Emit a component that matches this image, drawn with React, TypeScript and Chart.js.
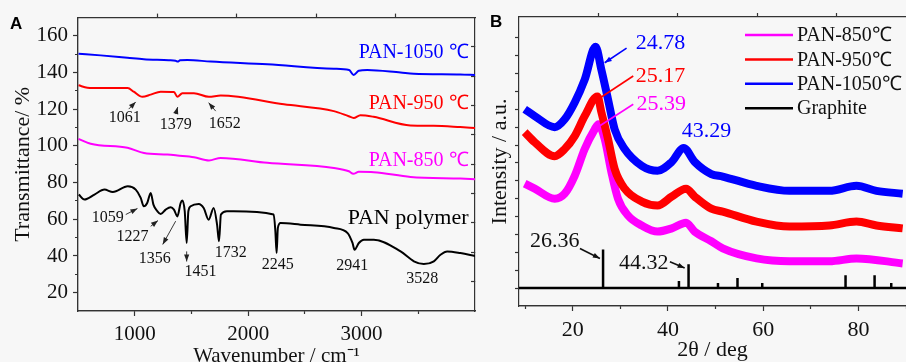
import React, { useEffect, useRef } from 'react';
import { Chart, registerables } from 'chart.js';

Chart.register(...registerables);

// ---------------- Panel A: FTIR ----------------
const ftirSeriesNames = ['PAN polymer', 'PAN-850 ℃', 'PAN-950 ℃', 'PAN-1050 ℃'];

const panPolymerWn = [507, 557, 645, 733, 807, 939, 1009, 1053, 1080, 1110, 1141, 1165, 1200, 1229, 1273, 1317, 1346, 1376, 1405, 1420, 1441, 1458, 1473, 1493, 1564, 1608, 1652, 1696, 1726, 1743, 1760, 1813, 1872, 2225, 2240, 2251, 2262, 2286, 2462, 2756, 2877, 2920, 2938, 2976, 3020, 3108, 3344, 3461, 3549, 3637, 3696, 3755, 3872, 4000];
const panPolymerT = [73.5, 70.8, 73.5, 76.2, 74.9, 78.0, 76.2, 71.7, 67.1, 68.9, 74.4, 68.0, 64.4, 62.9, 65.3, 66.6, 65.3, 61.6, 68.9, 70.2, 64.4, 47.1, 64.4, 67.1, 68.4, 66.2, 59.8, 66.2, 57.1, 48.0, 62.6, 64.4, 64.4, 62.6, 53.5, 41.6, 55.3, 58.0, 57.1, 55.3, 52.5, 47.1, 43.4, 47.1, 48.9, 48.9, 42.5, 37.1, 35.6, 37.1, 40.7, 42.5, 41.6, 40.0];

const pan850Wn = [504, 612, 936, 1082, 1288, 1376, 1523, 1655, 1758, 2169, 2756, 2888, 2927, 2976, 3108, 3432, 3872, 4000];
const pan850T = [103.9, 101.2, 99.0, 96.2, 95.3, 94.8, 93.9, 92.1, 93.5, 90.8, 88.0, 86.2, 84.8, 85.9, 85.7, 83.1, 82.2, 81.9];

const pan950Wn = [505, 583, 700, 938, 991, 1068, 1141, 1229, 1346, 1376, 1420, 1522, 1654, 1758, 2315, 2755, 2887, 2930, 2990, 3106, 3430, 3635, 3870, 4000];
const pan950T = [133.1, 131.8, 131.6, 131.6, 129.6, 126.8, 128.0, 129.6, 129.4, 126.8, 128.8, 128.8, 126.8, 127.5, 122.7, 119.0, 116.2, 115.3, 116.8, 115.9, 111.2, 111.0, 110.3, 109.8];

const pan1050Wn = [505, 700, 936, 1080, 1300, 1360, 1379, 1400, 1465, 1670, 2170, 2755, 2890, 2930, 2975, 3050, 3344, 3460, 3870, 4000];
const pan1050T = [150.3, 149.4, 148.1, 147.3, 146.8, 146.5, 146.0, 146.7, 146.9, 146.0, 144.5, 142.1, 141.4, 138.7, 141.0, 141.4, 140.0, 139.4, 139.0, 138.7];

const ftirXTicks = [1000, 2000, 3000];
const ftirXMinorTicks = [1500, 2500, 3500];
const ftirYTicks = [20, 40, 60, 80, 100, 120, 140, 160];
const ftirYMinorTicks = [30, 50, 70, 90, 110, 130, 150];

// label anchors, in data units (wavenumber, transmittance)
const ftirSeriesLabelAt = [[3943, 60.5], [3943, 91.7], [3943, 122.8], [3943, 150.7]];
const ftirPeakNotes = [
  { text: '1061', at: [912, 115.2], from: [947, 120.1], to: [1009, 124.0] },
  { text: '1379', at: [1361, 111.4], from: [1361, 117.4], to: [1379, 121.2] },
  { text: '1652', at: [1793, 112.1], from: [1714, 119.0], to: [1652, 123.6] },
  { text: '1059', at: [762, 60.7], from: [921, 62.6], to: [1024, 65.9] },
  { text: '1227', at: [980, 50.2], from: [1141, 56.2], to: [1205, 59.3] },
  { text: '1356', at: [1176, 38.5], from: [1361, 59.0], to: [1247, 46.3] },
  { text: '1451', at: [1581, 31.6], from: [1458, 42.5], to: [1458, 37.0] },
  { text: '1732', at: [1846, 41.6] },
  { text: '2245', at: [2262, 35.2] },
  { text: '2941', at: [2918, 34.6] },
  { text: '3528', at: [3535, 27.6] },
];

// ---------------- Panel B: XRD ----------------
const xrdSeriesNames = ['PAN-850℃', 'PAN-950℃', 'PAN-1050℃', 'Graphite'];

const xrd850Angle = [9.9, 12.0, 16.2, 18.3, 20.4, 22.5, 24.6, 25.39, 26.7, 28.1, 29.5, 31.6, 34.5, 37.8, 40.8, 43.8, 45.6, 49.1, 51.5, 58.6, 65.5, 73.9, 79.6, 89.3];
const xrd850I = [2.92, 2.78, 2.50, 2.64, 3.14, 3.89, 4.44, 4.58, 4.17, 3.25, 2.50, 2.03, 1.75, 1.58, 1.67, 1.83, 1.58, 1.31, 1.11, 0.83, 0.75, 0.75, 0.83, 0.69];

const xrd950Angle = [9.9, 12.0, 16.2, 18.3, 20.4, 22.5, 25.17, 26.0, 27.4, 28.8, 30.9, 34.5, 37.8, 40.8, 43.8, 45.6, 49.1, 51.5, 58.6, 65.5, 73.9, 79.6, 83.8, 89.3];
const xrd950I = [4.36, 4.08, 3.69, 3.89, 4.25, 4.81, 5.36, 4.92, 4.17, 3.33, 2.78, 2.42, 2.31, 2.56, 2.78, 2.56, 2.22, 2.14, 1.86, 1.72, 1.75, 1.86, 1.75, 1.67];

const xrd1050Angle = [9.9, 12.0, 16.2, 18.3, 20.4, 22.5, 24.78, 26.0, 27.4, 28.8, 30.9, 34.5, 37.8, 40.8, 43.29, 45.6, 49.1, 51.5, 58.6, 65.5, 73.9, 79.6, 83.8, 89.3];
const xrd1050I = [5.00, 4.81, 4.50, 4.72, 5.19, 5.83, 6.75, 6.11, 5.28, 4.44, 3.89, 3.42, 3.28, 3.53, 3.92, 3.53, 3.19, 3.12, 2.86, 2.72, 2.72, 2.86, 2.72, 2.64];

const graphiteAngle = [26.36, 42.3, 44.32, 50.5, 54.6, 59.8, 77.3, 83.4, 86.9];
const graphiteI = [1.08, 0.2, 0.67, 0.14, 0.28, 0.14, 0.36, 0.36, 0.14];

const xrdXTicks = [20, 40, 60, 80];
const xrdXMinorTicks = [10, 30, 50, 70, 90];
const xrdYTicks = [0, 0.5, 1, 1.5, 2, 2.5, 3, 3.5, 4, 4.5, 5, 5.5, 6, 6.5, 7];

// series index: 0 = 850, 1 = 950, 2 = 1050, 3 = graphite
const xrdPeakNotes = [
  { text: '24.78', series: 2, at: [38.4, 6.85], from: [31.3, 6.71], to: [26.7, 6.3], head: true },
  { text: '25.17', series: 1, at: [38.4, 5.93], from: [32.7, 5.93], to: [25.3, 5.28], head: false },
  { text: '25.39', series: 0, at: [38.6, 5.14], from: [32.7, 5.14], to: [25.7, 4.54], head: false },
  { text: '43.29', series: 2, at: [48.1, 4.40] },
  { text: '26.36', series: 3, at: [16.2, 1.30], from: [21.5, 1.11], to: [25.7, 0.83], head: true },
  { text: '44.32', series: 3, at: [34.9, 0.69], from: [40.4, 0.74], to: [43.5, 0.56], head: true },
];

// ---------------- styling ----------------
const SERIF = '"Liberation Serif", "Times New Roman", serif';
const AXIS = '#333333';
const TEXT = '#111111';
const ftirColors = ['#000000', '#ff00ff', '#ff0000', '#0000ff'];
const xrdColors = ['#ff00ff', '#ff0000', '#0000ff', '#000000'];

const toXY = (xs: number[], ys: number[]) => xs.map((x, i) => ({ x, y: ys[i] }));
const setTicks = (list: number[]) => (axis: any) => {
  axis.ticks = list.map((v) => ({ value: v }));
};

function drawArrow(ctx: CanvasRenderingContext2D, x1: number, y1: number, x2: number, y2: number, head: boolean, color: string, width = 1) {
  ctx.save();
  ctx.strokeStyle = color;
  ctx.fillStyle = color;
  ctx.lineWidth = width;
  ctx.beginPath();
  ctx.moveTo(x1, y1);
  ctx.lineTo(x2, y2);
  ctx.stroke();
  if (head) {
    const a = Math.atan2(y2 - y1, x2 - x1);
    const L = 7;
    const W = 2.6;
    ctx.beginPath();
    ctx.moveTo(x2, y2);
    ctx.lineTo(x2 - L * Math.cos(a) + W * Math.sin(a), y2 - L * Math.sin(a) - W * Math.cos(a));
    ctx.lineTo(x2 - L * Math.cos(a) - W * Math.sin(a), y2 - L * Math.sin(a) + W * Math.cos(a));
    ctx.closePath();
    ctx.fill();
  }
  ctx.restore();
}

function minorAxis(pos: string, min: number, max: number, list: number[], len: number, horizontal: boolean) {
  return {
    type: 'linear',
    position: pos,
    min,
    max,
    weight: 0,
    afterBuildTicks: setTicks(list),
    afterFit: (s: any) => {
      if (horizontal) s.height = 0;
      else s.width = 0;
    },
    ticks: { display: false, autoSkip: false },
    grid: { drawOnChartArea: false, drawTicks: true, tickLength: len, tickColor: AXIS, tickWidth: 1.2 },
    border: { display: true, color: AXIS, width: 1.2 },
  };
}

function buildFtir(): any {
  const lines = [
    [panPolymerWn, panPolymerT],
    [pan850Wn, pan850T],
    [pan950Wn, pan950T],
    [pan1050Wn, pan1050T],
  ];
  const notesPlugin = {
    id: 'ftirNotes',
    afterDraw(chart: any) {
      const ctx: CanvasRenderingContext2D = chart.ctx;
      const xs = chart.scales.x;
      const ys = chart.scales.y;
      const px = (v: number) => xs.getPixelForValue(v);
      const py = (v: number) => ys.getPixelForValue(v);
      ctx.save();
      ctx.textBaseline = 'middle';
      ctx.fillStyle = '#000';
      ctx.textAlign = 'left';
      ctx.font = 'bold 17px "Liberation Sans", Arial, sans-serif';
      ctx.fillText('A', 10, 24);
      ctx.textAlign = 'right';
      chart.data.datasets.forEach((ds: any, i: number) => {
        ctx.font = `${i === 0 ? 22 : 20}px ${SERIF}`;
        ctx.fillStyle = ftirColors[i];
        ctx.fillText(ds.label, px(ftirSeriesLabelAt[i][0]), py(ftirSeriesLabelAt[i][1]));
      });
      ctx.textAlign = 'center';
      ctx.font = `16px ${SERIF}`;
      ctx.fillStyle = TEXT;
      ftirPeakNotes.forEach((n: any) => {
        ctx.fillText(n.text, px(n.at[0]), py(n.at[1]));
        if (n.from) drawArrow(ctx, px(n.from[0]), py(n.from[1]), px(n.to[0]), py(n.to[1]), true, '#222', 0.9);
      });
      ctx.restore();
    },
  };
  return {
    type: 'line',
    data: {
      datasets: lines.map(([xs, ys], i) => ({
        label: ftirSeriesNames[i],
        data: toXY(xs, ys),
        borderColor: ftirColors[i],
        backgroundColor: ftirColors[i],
        borderWidth: 2,
        pointRadius: 0,
        fill: false,
        cubicInterpolationMode: 'monotone',
      })),
    },
    plugins: [notesPlugin],
    options: {
      animation: false,
      responsive: false,
      devicePixelRatio: 1,
      layout: { padding: { left: 0, top: 17, right: 9, bottom: 0 } },
      plugins: { legend: { display: false }, tooltip: { enabled: false } },
      scales: {
        x: {
          type: 'linear',
          position: 'bottom',
          min: 500,
          max: 4000,
          weight: 1,
          afterBuildTicks: setTicks(ftirXTicks),
          afterFit: (s: any) => { s.height = 51; },
          ticks: { autoSkip: false, maxRotation: 0, padding: 6, color: TEXT, font: { family: SERIF, size: 21 }, callback: (v: any) => String(v) },
          grid: { drawOnChartArea: false, drawTicks: true, tickLength: 5, tickColor: AXIS, tickWidth: 1.2 },
          border: { display: true, color: AXIS, width: 1.2 },
          title: { display: true, text: 'Wavenumber / cm⁻¹', color: TEXT, font: { family: SERIF, size: 21 }, padding: { top: 0, bottom: -7 } },
        },
        xMinor: minorAxis('bottom', 500, 4000, ftirXMinorTicks, 3, true),
        xTop: minorAxis('top', 0, 5, [1, 2, 3, 4], 4, true),
        y: {
          type: 'linear',
          position: 'left',
          min: 10,
          max: 170,
          weight: 1,
          afterBuildTicks: setTicks(ftirYTicks),
          afterFit: (s: any) => { s.width = 78; },
          ticks: { autoSkip: false, padding: 5, color: TEXT, font: { family: SERIF, size: 21 }, callback: (v: any) => String(v) },
          grid: { drawOnChartArea: false, drawTicks: true, tickLength: 5, tickColor: AXIS, tickWidth: 1.2 },
          border: { display: true, color: AXIS, width: 1.2 },
          title: { display: true, text: 'Transmittance/ %', color: TEXT, font: { family: SERIF, size: 22 }, padding: { top: 10, bottom: 0 } },
        },
        yMinor: minorAxis('left', 10, 170, ftirYMinorTicks, 3, false),
        yRight: minorAxis('right', 0, 10, [1, 2, 3, 4, 5, 6, 7, 8, 9], -4, false),
      },
    },
  };
}

function buildXrd(): any {
  const graphiteData: { x: number; y: number }[] = [{ x: 8.7, y: 0 }];
  graphiteAngle.forEach((a, i) => {
    graphiteData.push({ x: a, y: 0 }, { x: a, y: graphiteI[i] }, { x: a, y: 0 });
  });
  graphiteData.push({ x: 90, y: 0 });
  const curves = [
    [xrd850Angle, xrd850I],
    [xrd950Angle, xrd950I],
    [xrd1050Angle, xrd1050I],
  ];
  const datasets: any[] = curves.map(([xs, ys], i) => ({
    label: xrdSeriesNames[i],
    data: toXY(xs, ys),
    borderColor: xrdColors[i],
    backgroundColor: xrdColors[i],
    borderWidth: 8,
    pointRadius: 0,
    fill: false,
    cubicInterpolationMode: 'monotone',
    order: 3 - i,
  }));
  datasets.push({
    label: xrdSeriesNames[3],
    data: graphiteData,
    borderColor: xrdColors[3],
    backgroundColor: xrdColors[3],
    borderWidth: 2.5,
    pointRadius: 0,
    fill: false,
    tension: 0,
    order: 4,
  });
  const notesPlugin = {
    id: 'xrdNotes',
    afterDraw(chart: any) {
      const ctx: CanvasRenderingContext2D = chart.ctx;
      const xs = chart.scales.x;
      const ys = chart.scales.y;
      const area = chart.chartArea;
      const px = (v: number) => xs.getPixelForValue(v);
      const py = (v: number) => ys.getPixelForValue(v);
      ctx.save();
      ctx.textBaseline = 'middle';
      ctx.textAlign = 'left';
      ctx.fillStyle = '#000';
      ctx.font = 'bold 17px "Liberation Sans", Arial, sans-serif';
      ctx.fillText('B', 6, 22);
      // legend
      ctx.font = `20px ${SERIF}`;
      chart.data.datasets.forEach((ds: any, i: number) => {
        const yy = area.top + 18 + i * 24.4;
        ctx.strokeStyle = xrdColors[i];
        ctx.lineWidth = 2.5;
        ctx.beginPath();
        ctx.moveTo(area.right - 161, yy);
        ctx.lineTo(area.right - 113, yy);
        ctx.stroke();
        ctx.fillStyle = TEXT;
        ctx.fillText(ds.label, area.right - 109, yy + 1);
      });
      // peak notes
      ctx.textAlign = 'center';
      ctx.font = `22px ${SERIF}`;
      xrdPeakNotes.forEach((n: any) => {
        const c = n.series === 3 ? TEXT : xrdColors[n.series];
        ctx.fillStyle = c;
        ctx.fillText(n.text, px(n.at[0]), py(n.at[1]));
        if (n.from) drawArrow(ctx, px(n.from[0]), py(n.from[1]), px(n.to[0]), py(n.to[1]), n.head, c, 1.6);
      });
      ctx.restore();
    },
  };
  return {
    type: 'line',
    data: { datasets },
    plugins: [notesPlugin],
    options: {
      animation: false,
      responsive: false,
      devicePixelRatio: 1,
      layout: { padding: { left: 0, top: 17, right: 0, bottom: 0 } },
      plugins: { legend: { display: false }, tooltip: { enabled: false } },
      scales: {
        x: {
          type: 'linear',
          position: 'bottom',
          min: 8.7,
          max: 90,
          weight: 1,
          afterBuildTicks: setTicks(xrdXTicks),
          afterFit: (s: any) => { s.height = 56; },
          ticks: { autoSkip: false, maxRotation: 0, padding: 6, color: TEXT, font: { family: SERIF, size: 22 }, callback: (v: any) => String(v) },
          grid: { drawOnChartArea: false, drawTicks: true, tickLength: 5, tickColor: AXIS, tickWidth: 1.2 },
          border: { display: true, color: AXIS, width: 1.2 },
          title: { display: true, text: '2θ / deg', color: TEXT, font: { family: SERIF, size: 22 }, padding: { top: 0, bottom: -1 } },
        },
        xMinor: minorAxis('bottom', 8.7, 90, xrdXMinorTicks, 3, true),
        xTop: minorAxis('top', 0, 4.87, [1, 2, 3, 4], 4, true),
        y: {
          type: 'linear',
          position: 'left',
          min: -0.5,
          max: 7.58,
          weight: 1,
          afterBuildTicks: setTicks(xrdYTicks),
          afterFit: (s: any) => { s.width = 35; },
          ticks: { autoSkip: false, color: TEXT, callback: () => '' },
          grid: { drawOnChartArea: false, drawTicks: true, tickLength: 4, tickColor: AXIS, tickWidth: 1.2 },
          border: { display: true, color: AXIS, width: 1.2 },
          title: { display: true, text: 'Intensity / a.u.', color: TEXT, font: { family: SERIF, size: 22 }, padding: { top: 3, bottom: 0 } },
        },
      },
    },
  };
}

export default function App() {
  const refA = useRef<HTMLCanvasElement>(null);
  const refB = useRef<HTMLCanvasElement>(null);
  useEffect(() => {
    const a = new Chart(refA.current as HTMLCanvasElement, buildFtir());
    const b = new Chart(refB.current as HTMLCanvasElement, buildXrd());
    return () => {
      a.destroy();
      b.destroy();
    };
  }, []);
  return (
    <div style={{ position: 'absolute', left: 0, top: 0, width: 906, height: 362, overflow: 'hidden', background: '#f7f7f7' }}>
      <canvas ref={refA} width={484} height={362} style={{ position: 'absolute', left: 0, top: 0, width: 484, height: 362 }} />
      <canvas ref={refB} width={422} height={362} style={{ position: 'absolute', left: 484, top: 0, width: 422, height: 362 }} />
    </div>
  );
}
